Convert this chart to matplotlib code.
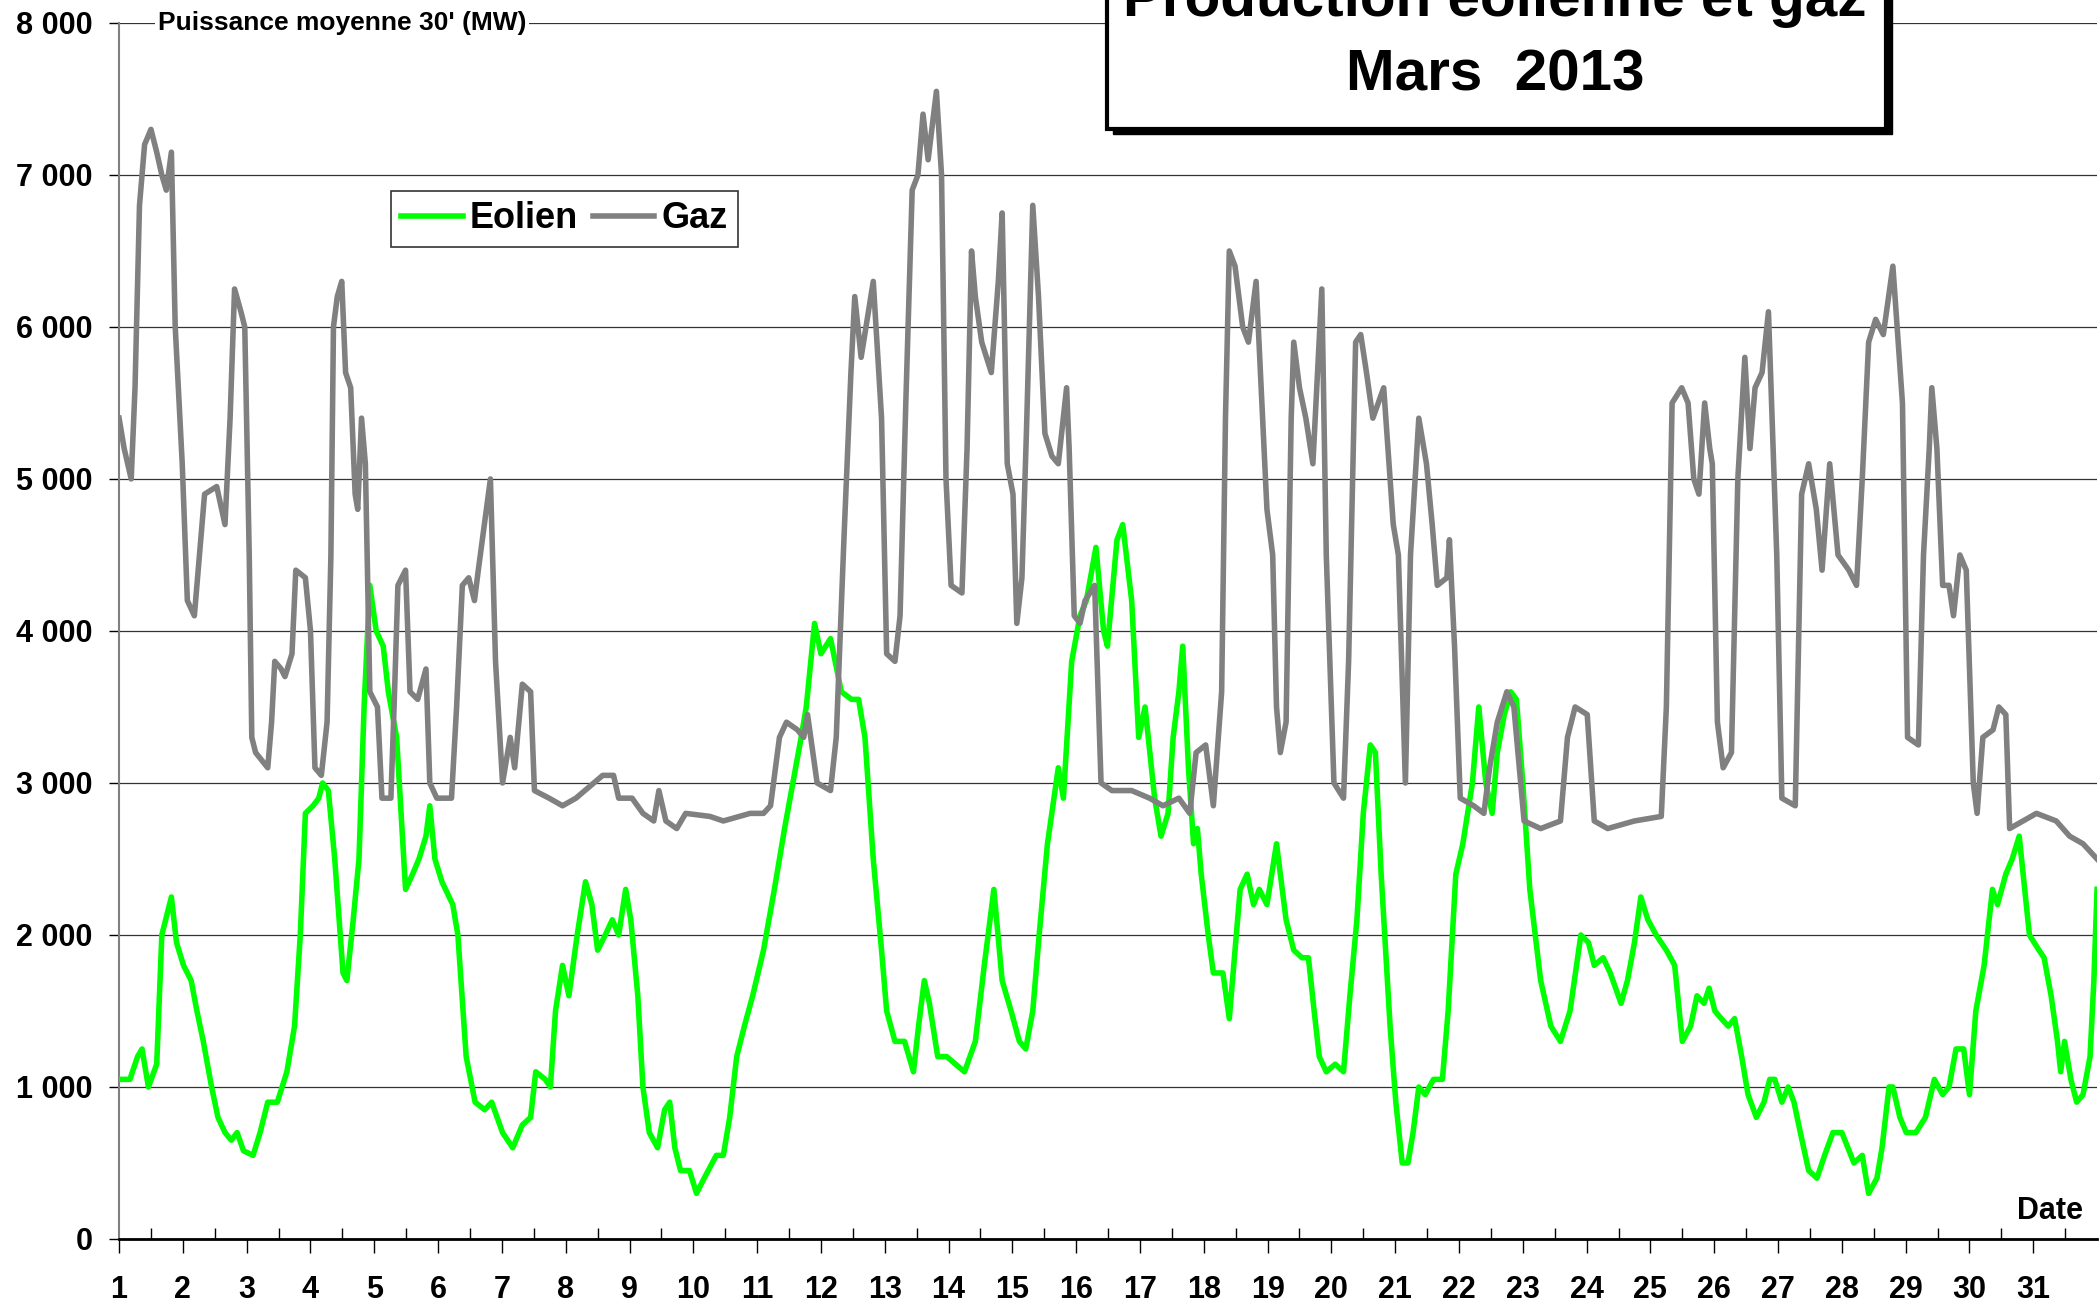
import matplotlib
matplotlib.use("Agg")
import matplotlib.pyplot as plt
from matplotlib.patches import Rectangle
from matplotlib.ticker import FuncFormatter, MultipleLocator

plt.rcParams["font.family"] = ["Liberation Sans", "DejaVu Sans"]
plt.rcParams["font.weight"] = "bold"

# puissance moyenne 30' (MW); temps en jours du mois
gaz_t = [1.00, 1.08, 1.19, 1.25, 1.32, 1.40, 1.50, 1.59, 1.67, 1.74, 1.82, 1.88, 1.99, 2.07, 2.18, 2.28, 2.34,
         2.53, 2.66, 2.74, 2.81, 2.91, 2.97, 3.04, 3.08, 3.14, 3.33, 3.39, 3.44, 3.54, 3.60, 3.71, 3.77, 3.92,
         4.00, 4.07, 4.17, 4.26, 4.32, 4.36, 4.42, 4.49, 4.55, 4.63, 4.70, 4.74, 4.80, 4.86, 4.93, 5.05, 5.12,
         5.26, 5.31, 5.37, 5.49, 5.56, 5.68, 5.81, 5.87, 5.98, 6.21, 6.29, 6.38, 6.48, 6.57, 6.63, 6.82, 6.90,
         7.01, 7.13, 7.20, 7.32, 7.45, 7.51, 7.74, 7.95, 8.16, 8.58, 8.75, 8.83, 9.04, 9.21, 9.38, 9.46, 9.57,
         9.74, 9.88, 10.26, 10.47, 10.89, 11.10, 11.21, 11.35, 11.46, 11.63, 11.73, 11.79, 11.94, 12.15, 12.24,
         12.36, 12.47, 12.53, 12.63, 12.82, 12.95, 13.03, 13.16, 13.24, 13.33, 13.43, 13.52, 13.60, 13.68,
         13.81, 13.89, 13.96, 14.04, 14.21, 14.29, 14.36, 14.42, 14.52, 14.67, 14.78, 14.84, 14.92, 15.01,
         15.07, 15.15, 15.22, 15.32, 15.41, 15.51, 15.62, 15.72, 15.85, 15.89, 15.97, 16.06, 16.14, 16.29,
         16.39, 16.56, 16.87, 17.15, 17.36, 17.61, 17.78, 17.88, 18.03, 18.15, 18.28, 18.34, 18.40, 18.49,
         18.61, 18.70, 18.82, 18.91, 18.99, 19.08, 19.14, 19.20, 19.29, 19.37, 19.41, 19.50, 19.60, 19.71,
         19.85, 19.92, 20.04, 20.19, 20.27, 20.38, 20.46, 20.55, 20.65, 20.82, 20.97, 21.05, 21.16, 21.24,
         21.37, 21.49, 21.58, 21.66, 21.81, 21.85, 21.93, 22.02, 22.23, 22.39, 22.48, 22.60, 22.75, 22.86,
         23.02, 23.28, 23.59, 23.70, 23.82, 24.01, 24.12, 24.33, 24.75, 25.17, 25.25, 25.34, 25.49, 25.59,
         25.68, 25.76, 25.85, 25.93, 25.97, 26.05, 26.14, 26.27, 26.37, 26.48, 26.56, 26.64, 26.75, 26.85,
         26.98, 27.06, 27.27, 27.37, 27.48, 27.60, 27.69, 27.81, 27.94, 28.11, 28.23, 28.32, 28.42, 28.53,
         28.65, 28.80, 28.95, 29.03, 29.20, 29.28, 29.37, 29.41, 29.49, 29.58, 29.68, 29.75, 29.85, 29.95,
         30.06, 30.12, 30.21, 30.37, 30.46, 30.57, 30.63, 30.84, 31.05, 31.36, 31.57, 31.78, 32.00]
gaz_mw = [5400, 5200, 5000, 5600, 6800, 7200, 7300, 7150, 7000, 6900, 7150, 6000, 5100, 4200, 4100, 4600, 4900,
          4950, 4700, 5400, 6250, 6100, 6000, 4500, 3300, 3200, 3100, 3400, 3800, 3750, 3700, 3850, 4400, 4350,
          4000, 3100, 3050, 3400, 4500, 6000, 6200, 6300, 5700, 5600, 4900, 4800, 5400, 5100, 3600, 3500, 2900,
          2900, 3500, 4300, 4400, 3600, 3550, 3750, 3000, 2900, 2900, 3500, 4300, 4350, 4200, 4400, 5000, 3800,
          3000, 3300, 3100, 3650, 3600, 2950, 2900, 2850, 2900, 3050, 3050, 2900, 2900, 2800, 2750, 2950, 2750,
          2700, 2800, 2780, 2750, 2800, 2800, 2850, 3300, 3400, 3350, 3300, 3450, 3000, 2950, 3300,
          4600, 5700, 6200, 5800, 6300, 5400, 3850, 3800, 4100, 5500, 6900, 7000, 7400, 7100,
          7550, 7000, 5000, 4300, 4250, 5200, 6500, 6200, 5900, 5700, 6300, 6750, 5100, 4900,
          4050, 4350, 5300, 6800, 6200, 5300, 5150, 5100, 5600, 5200, 4100, 4050, 4200, 4300,
          3000, 2950, 2950, 2900, 2850, 2900, 2800, 3200, 3250, 2850, 3600, 5400, 6500, 6400,
          6000, 5900, 6300, 5500, 4800, 4500, 3500, 3200, 3400, 5400, 5900, 5600, 5400, 5100,
          6250, 4500, 3000, 2900, 3800, 5900, 5950, 5700, 5400, 5600, 4700, 4500, 3000, 4500,
          5400, 5100, 4700, 4300, 4350, 4600, 3900, 2900, 2850, 2800, 3100, 3400, 3600, 3500,
          2750, 2700, 2750, 3300, 3500, 3450, 2750, 2700, 2750, 2780, 3500, 5500, 5600, 5500,
          5000, 4900, 5500, 5200, 5100, 3400, 3100, 3200, 5000, 5800, 5200, 5600, 5700, 6100,
          4500, 2900, 2850, 4900, 5100, 4800, 4400, 5100, 4500, 4400, 4300, 5000, 5900, 6050,
          5950, 6400, 5500, 3300, 3250, 4500, 5200, 5600, 5200, 4300, 4300, 4100, 4500, 4400,
          3000, 2800, 3300, 3350, 3500, 3450, 2700, 2750, 2800, 2750, 2650, 2600, 2500]

eol_t = [1.00, 1.17, 1.29, 1.36, 1.46, 1.59, 1.67, 1.76, 1.82, 1.90, 2.01, 2.13, 2.22, 2.32, 2.45, 2.55, 2.66,
         2.76, 2.85, 2.95, 3.10, 3.21, 3.33, 3.48, 3.63, 3.75, 3.84, 3.92, 4.04, 4.13, 4.19, 4.28, 4.38, 4.51,
         4.57, 4.67, 4.76, 4.84, 4.93, 5.03, 5.14, 5.22, 5.35, 5.49, 5.60, 5.70, 5.81, 5.87, 5.95, 6.06, 6.23,
         6.31, 6.44, 6.58, 6.73, 6.84, 7.01, 7.17, 7.32, 7.45, 7.53, 7.68, 7.76, 7.84, 7.95, 8.05, 8.18, 8.31,
         8.41, 8.50, 8.62, 8.73, 8.83, 8.94, 9.02, 9.13, 9.21, 9.31, 9.44, 9.55, 9.63, 9.71, 9.80, 9.94, 10.05,
         10.17, 10.36, 10.47, 10.57, 10.68, 10.80, 10.93, 11.10, 11.27, 11.43, 11.56, 11.69, 11.77, 11.90,
         12.00, 12.15, 12.32, 12.48, 12.59, 12.69, 12.82, 12.95, 13.03, 13.16, 13.31, 13.45, 13.53, 13.62,
         13.70, 13.83, 13.97, 14.25, 14.42, 14.56, 14.71, 14.84, 14.98, 15.11, 15.21, 15.32, 15.42, 15.55,
         15.72, 15.80, 15.93, 16.06, 16.16, 16.31, 16.43, 16.49, 16.64, 16.73, 16.87, 16.98, 17.08, 17.23,
         17.33, 17.44, 17.52, 17.61, 17.67, 17.76, 17.84, 17.90, 17.96, 18.07, 18.15, 18.30, 18.40, 18.49,
         18.57, 18.68, 18.78, 18.87, 18.99, 19.14, 19.29, 19.41, 19.54, 19.64, 19.73, 19.81, 19.92, 20.06,
         20.19, 20.29, 20.40, 20.50, 20.61, 20.69, 20.78, 20.92, 21.01, 21.11, 21.20, 21.28, 21.37, 21.47,
         21.60, 21.74, 21.83, 21.95, 22.06, 22.21, 22.31, 22.42, 22.52, 22.60, 22.71, 22.81, 22.90, 23.00,
         23.11, 23.28, 23.44, 23.59, 23.74, 23.91, 24.03, 24.12, 24.26, 24.37, 24.54, 24.64, 24.75, 24.85,
         24.96, 25.09, 25.25, 25.38, 25.50, 25.63, 25.73, 25.84, 25.92, 26.01, 26.11, 26.22, 26.32, 26.43,
         26.53, 26.66, 26.78, 26.87, 26.95, 27.06, 27.16, 27.25, 27.35, 27.48, 27.61, 27.73, 27.86, 28.00,
         28.19, 28.32, 28.42, 28.55, 28.63, 28.74, 28.80, 28.91, 29.01, 29.16, 29.31, 29.45, 29.58, 29.68,
         29.79, 29.91, 30.00, 30.10, 30.23, 30.36, 30.44, 30.57, 30.67, 30.78, 30.94, 31.09, 31.17, 31.28,
         31.38, 31.43, 31.49, 31.59, 31.68, 31.78, 31.89, 31.95, 32.00]
eol_mw = [1050, 1050, 1200, 1250, 1000, 1150, 2000, 2150, 2250, 1950, 1800, 1700, 1500, 1300, 1000, 800, 700,
          650, 700, 580, 550, 700, 900, 900, 1100, 1400, 2000, 2800, 2850, 2900, 3000, 2950, 2500, 1750,
          1700, 2100, 2500, 3500, 4300, 4000, 3900, 3600, 3300, 2300, 2400, 2500, 2650, 2850, 2500, 2350, 2200,
          2000, 1200, 900, 850, 900, 700, 600, 750, 800, 1100, 1050, 1000, 1500, 1800, 1600, 2000, 2350,
          2200, 1900, 2000, 2100, 2000, 2300, 2100, 1600, 1000, 700, 600, 850, 900, 600, 450, 450, 300,
          400, 550, 550, 800, 1200, 1400, 1600, 1900, 2300, 2700, 3000, 3300, 3500, 4050,
          3850, 3950, 3600, 3550, 3550, 3300, 2500, 1900, 1500, 1300, 1300, 1100, 1400, 1700,
          1550, 1200, 1200, 1100, 1300, 1800, 2300, 1700, 1500, 1300, 1250, 1500, 2000, 2600,
          3100, 2900, 3800, 4100, 4200, 4550, 4000, 3900, 4600, 4700, 4200, 3300, 3500, 2900,
          2650, 2800, 3300, 3600, 3900, 3100, 2600, 2700, 2400, 2000, 1750, 1750, 1450, 1900,
          2300, 2400, 2200, 2300, 2200, 2600, 2100, 1900, 1850, 1850, 1500, 1200, 1100, 1150,
          1100, 1600, 2100, 2800, 3250, 3200, 2400, 1400, 900, 500, 500, 700, 1000, 950,
          1050, 1050, 1500, 2400, 2600, 3000, 3500, 3000, 2800, 3200, 3450, 3600, 3550, 3000,
          2300, 1700, 1400, 1300, 1500, 2000, 1950, 1800, 1850, 1750, 1550, 1700, 1950, 2250,
          2100, 2000, 1900, 1800, 1300, 1400, 1600, 1550, 1650, 1500, 1450, 1400, 1450, 1200,
          950, 800, 900, 1050, 1050, 900, 1000, 900, 700, 450, 400, 550, 700, 700,
          500, 550, 300, 400, 600, 1000, 1000, 800, 700, 700, 800, 1050, 950, 1000,
          1250, 1250, 950, 1500, 1800, 2300, 2200, 2400, 2500, 2650, 2000, 1900, 1850, 1600,
          1300, 1100, 1300, 1050, 900, 950, 1200, 1700, 2300]

jours = list(range(1, 32))

fig = plt.figure(figsize=(21, 13.05), dpi=100)
ax = fig.add_axes([0.0567, 0.0506, 0.9419, 0.9318])

ax.plot(eol_t, eol_mw, color="#00ff00", lw=4, label="Eolien", zorder=3)
ax.plot(gaz_t, gaz_mw, color="#808080", lw=4, label="Gaz", zorder=3)

ax.set_xlim(1, 32)
ax.set_ylim(0, 8000)
ax.set_xticks(jours)
ax.set_xticklabels([str(j) for j in jours])
ax.set_xticks([j + 0.5 for j in jours], minor=True)
ax.yaxis.set_major_locator(MultipleLocator(1000))
ax.yaxis.set_major_formatter(FuncFormatter(lambda v, p: f"{int(v):,}".replace(",", " ")))

ax.grid(axis="y", color="#333333", lw=0.9)
ax.set_axisbelow(True)
for s in ["top", "right"]:
    ax.spines[s].set_visible(False)
ax.spines["bottom"].set_linewidth(2)
ax.spines["left"].set_color("#808080")
ax.spines["left"].set_linewidth(1.5)

ax.tick_params(axis="x", which="major", direction="out", length=10, width=1, pad=16, labelsize=22)
ax.tick_params(axis="x", which="minor", direction="in", length=8, width=1)
ax.tick_params(axis="y", which="major", direction="out", length=7, width=1, pad=12, labelsize=22)
for lab in ax.get_xticklabels() + ax.get_yticklabels():
    lab.set_fontweight("bold")

ax.text(0.0196, 1.0, "Puissance moyenne 30' (MW)", transform=ax.transAxes, fontsize=19,
        fontweight="bold", va="center", ha="left",
        bbox=dict(facecolor="white", edgecolor="none", pad=2), zorder=5)
ax.text(0.993, 0.011, "Date", transform=ax.transAxes, fontsize=22, fontweight="bold",
        ha="right", va="bottom")

leg = ax.legend(loc="upper left", bbox_to_anchor=(0.186, 0.854), bbox_transform=fig.transFigure,
                ncol=2, fontsize=26, frameon=True, fancybox=False, borderaxespad=0,
                handlelength=1.7, columnspacing=0.4, handletextpad=0.2, borderpad=0.3)
leg.get_frame().set_edgecolor("black")
leg.get_frame().set_linewidth(1.2)
for t in leg.get_texts():
    t.set_fontweight("bold")

# cadre du titre avec ombre, coupé en haut de l'image
fig.add_artist(Rectangle((0.530, 0.897), 0.371, 0.2, transform=fig.transFigure,
                         facecolor="black", edgecolor="black", zorder=10))
fig.add_artist(Rectangle((0.527, 0.901), 0.371, 0.2, transform=fig.transFigure,
                         facecolor="white", edgecolor="black", lw=3, zorder=11))
fig.text(0.712, 0.988, "Production éolienne et gaz", fontsize=42, fontweight="bold",
         ha="center", va="baseline", zorder=12)
fig.text(0.712, 0.931, "Mars  2013", fontsize=42, fontweight="bold",
         ha="center", va="baseline", zorder=12)

fig.savefig("out.png", dpi=100)
